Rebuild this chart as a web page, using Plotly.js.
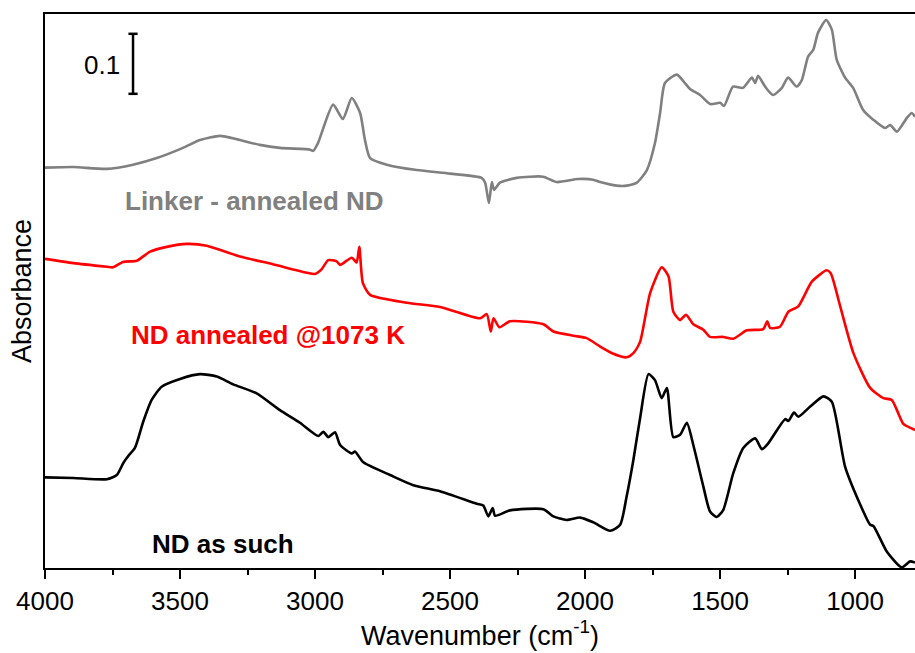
<!DOCTYPE html>
<html>
<head>
<meta charset="utf-8">
<script src="https://cdn.plot.ly/plotly-3.0.1.min.js"></script>
<style>html,body{margin:0;padding:0;background:#fff;}#chart{width:915px;height:653px;}</style>
</head>
<body>
<div id="chart"></div>
<script>
// Wavenumber (cm-1) and offset absorbance for each spectrum
const linkerWn = [4000,3895,3771,3674,3586,3489,3426,3352,3278,3204,3130,3018,3007,2989,2933,2897,2864,2833,2815,2796,2734,2623,2500,2383,2370,2356,2345,2337,2315,2253,2155,2105,2026,1970,1944,1883,1845,1808,1771,1741,1722,1704,1660,1630,1611,1574,1537,1500,1485,1452,1415,1382,1370,1359,1333,1304,1271,1248,1216,1197,1174,1155,1137,1107,1086,1068,1037,1007,970,933,889,870,845,808,790,778];
const linkerAbs = [0.667,0.668,0.665,0.672,0.683,0.700,0.713,0.720,0.713,0.705,0.700,0.697,0.695,0.708,0.772,0.748,0.783,0.758,0.713,0.683,0.672,0.663,0.657,0.650,0.642,0.608,0.643,0.630,0.642,0.650,0.652,0.643,0.648,0.647,0.643,0.637,0.637,0.642,0.663,0.708,0.758,0.808,0.822,0.808,0.798,0.788,0.773,0.775,0.770,0.802,0.800,0.817,0.808,0.820,0.802,0.788,0.800,0.817,0.802,0.813,0.852,0.863,0.892,0.913,0.897,0.847,0.817,0.800,0.763,0.747,0.733,0.738,0.727,0.750,0.758,0.752];

const annealedWn = [4000,3895,3771,3748,3711,3660,3611,3549,3475,3401,3278,3156,3031,3000,2975,2951,2920,2907,2864,2846,2836,2823,2796,2660,2537,2389,2364,2349,2339,2317,2278,2154,2117,2043,1994,1944,1895,1846,1821,1796,1759,1716,1691,1673,1648,1626,1599,1562,1537,1488,1451,1401,1340,1325,1315,1278,1247,1210,1160,1105,1090,1055,1006,944,895,864,845,821,778];
const annealedAbs = [0.515,0.508,0.502,0.501,0.510,0.512,0.527,0.535,0.540,0.537,0.519,0.506,0.492,0.490,0.498,0.513,0.511,0.505,0.517,0.509,0.535,0.475,0.455,0.442,0.435,0.416,0.423,0.394,0.416,0.401,0.411,0.406,0.394,0.387,0.383,0.369,0.357,0.351,0.358,0.377,0.458,0.501,0.486,0.427,0.413,0.422,0.406,0.397,0.385,0.385,0.382,0.396,0.398,0.411,0.400,0.402,0.427,0.436,0.477,0.496,0.491,0.436,0.358,0.300,0.283,0.280,0.263,0.240,0.230];

const rawWn = [4000,3895,3771,3734,3710,3691,3667,3636,3605,3568,3500,3426,3364,3303,3216,3130,3056,2988,2969,2951,2926,2907,2864,2852,2821,2722,2636,2537,2401,2377,2358,2342,2333,2278,2154,2117,2068,2018,1969,1907,1870,1846,1821,1796,1765,1741,1716,1697,1673,1648,1623,1599,1562,1537,1512,1488,1451,1414,1370,1345,1321,1259,1247,1226,1210,1166,1117,1086,1037,988,944,932,882,827,796,778];
const rawAbs = [0.151,0.150,0.148,0.155,0.175,0.187,0.200,0.244,0.280,0.302,0.315,0.323,0.319,0.306,0.291,0.263,0.242,0.220,0.227,0.218,0.226,0.205,0.191,0.194,0.176,0.155,0.138,0.128,0.107,0.104,0.086,0.100,0.087,0.096,0.098,0.086,0.080,0.084,0.076,0.062,0.072,0.119,0.180,0.250,0.323,0.313,0.283,0.300,0.218,0.222,0.242,0.205,0.136,0.094,0.085,0.097,0.158,0.200,0.216,0.198,0.208,0.248,0.245,0.259,0.252,0.269,0.286,0.277,0.169,0.113,0.072,0.070,0.027,0.001,0.011,0.009];

const seriesNames = ["Linker - annealed ND", "ND annealed @1073 K", "ND as such"];
const seriesColors = ["#808080", "#ff0000", "#000000"];
const scaleBarLabel = "0.1";
const scaleBarSize = 0.1;

const FONT = "Liberation Sans, Arial, sans-serif";

const lineStyle = (c) => ({color: c, width: 2.6, shape: "spline", smoothing: 0.6});
const traces = [
  {x: linkerWn, y: linkerAbs, name: seriesNames[0], mode: "lines", line: lineStyle(seriesColors[0])},
  {x: annealedWn, y: annealedAbs, name: seriesNames[1], mode: "lines", line: lineStyle(seriesColors[1])},
  {x: rawWn, y: rawAbs, name: seriesNames[2], mode: "lines", line: lineStyle(seriesColors[2])}
];

const barX = 3674, barY0 = 0.79, capHalf = 17;

const layout = {
  width: 915, height: 653,
  margin: {l: 45, r: 0, t: 14, b: 85},
  paper_bgcolor: "#fff", plot_bgcolor: "#fff",
  showlegend: false,
  font: {family: FONT, color: "#000"},
  xaxis: {
    range: [4000, 778], dtick: 500, tick0: 0,
    ticks: "outside", ticklen: 9, tickwidth: 2, tickcolor: "#000",
    minor: {ticks: "outside", ticklen: 5, tickwidth: 2, dtick: 250, tickcolor: "#000"},
    showline: true, linewidth: 2, linecolor: "#000", mirror: true,
    showgrid: false, zeroline: false,
    tickfont: {size: 26, family: FONT, color: "#000"},
    title: {text: "Wavenumber (cm<sup>-1</sup>)", font: {size: 27, family: FONT, color: "#000"}, standoff: 9}
  },
  yaxis: {
    range: [0, 0.923],
    showticklabels: false, ticks: "",
    showline: true, linewidth: 2, linecolor: "#000", mirror: false,
    showgrid: false, zeroline: false,
    title: {text: "Absorbance", font: {size: 27, family: FONT, color: "#000"}, standoff: 4}
  },
  shapes: [
    {type: "line", xref: "x", yref: "y", x0: barX, x1: barX, y0: barY0, y1: barY0 + scaleBarSize, line: {color: "#000", width: 2.5}},
    {type: "line", xref: "x", yref: "y", x0: barX - capHalf, x1: barX + capHalf, y0: barY0, y1: barY0, line: {color: "#000", width: 2.5}},
    {type: "line", xref: "x", yref: "y", x0: barX - capHalf, x1: barX + capHalf, y0: barY0 + scaleBarSize, y1: barY0 + scaleBarSize, line: {color: "#000", width: 2.5}}
  ],
  annotations: [
    {x: 3715, y: 0.838, xref: "x", yref: "y", text: scaleBarLabel, showarrow: false, xanchor: "right", yanchor: "middle", font: {size: 26, family: FONT, color: "#000"}},
    {x: 3224, y: 0.612, xref: "x", yref: "y", text: "<b>" + seriesNames[0] + "</b>", showarrow: false, xanchor: "center", yanchor: "middle", font: {size: 26, family: FONT, color: seriesColors[0]}},
    {x: 3176, y: 0.388, xref: "x", yref: "y", text: "<b>" + seriesNames[1] + "</b>", showarrow: false, xanchor: "center", yanchor: "middle", font: {size: 26, family: FONT, color: seriesColors[1]}},
    {x: 3339, y: 0.040, xref: "x", yref: "y", text: "<b>" + seriesNames[2] + "</b>", showarrow: false, xanchor: "center", yanchor: "middle", font: {size: 26, family: FONT, color: seriesColors[2]}}
  ]
};

Plotly.newPlot("chart", traces, layout, {displayModeBar: false, staticPlot: true});
</script>
</body>
</html>
